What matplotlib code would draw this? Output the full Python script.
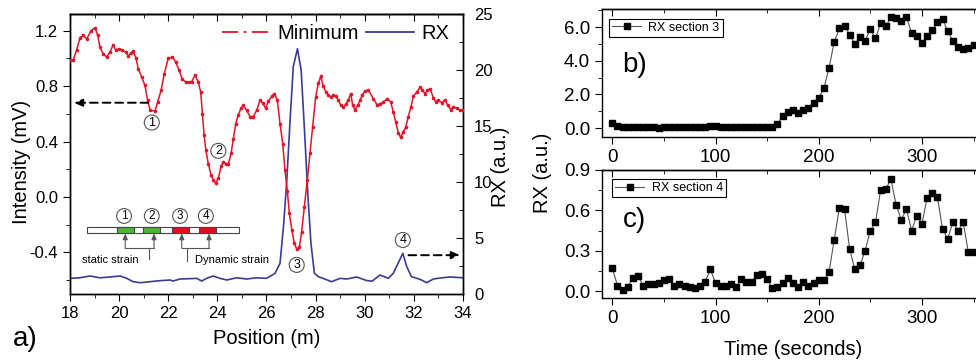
import matplotlib

matplotlib.use("Agg")

import numpy as np
from matplotlib import pyplot as plt
from matplotlib.lines import Line2D
from matplotlib.patches import Rectangle
from matplotlib.ticker import MultipleLocator, FormatStrFormatter

# ------------------------------------------------------
# Data

# panel a: "Minimum" intensity along the fibre (mV)
min_pos = [18.0, 18.13, 18.27, 18.41, 18.54, 18.68, 18.86, 19.02, 19.13, 19.22,
           19.36, 19.49, 19.63, 19.76, 19.86, 19.99, 20.13, 20.27, 20.38, 20.48,
           20.58, 20.69, 20.78, 20.92, 21.05, 21.16, 21.26, 21.46, 21.57, 21.71,
           21.84, 22.0, 22.17, 22.30, 22.44, 22.57, 22.71, 22.85, 22.95, 23.09,
           23.22, 23.32, 23.39, 23.46, 23.53, 23.63, 23.74, 23.84, 23.93, 24.04,
           24.15, 24.24, 24.35, 24.45, 24.56, 24.65, 24.75, 24.85, 24.96, 25.06,
           25.19, 25.33, 25.46, 25.60, 25.74, 25.85, 25.97, 26.07, 26.21, 26.32,
           26.44, 26.55, 26.66, 26.75, 26.85, 26.93, 27.03, 27.13, 27.23, 27.34,
           27.43, 27.54, 27.66, 27.77, 27.88, 28.0, 28.11, 28.21, 28.31, 28.41,
           28.52, 28.63, 28.72, 28.83, 28.92, 29.03, 29.13, 29.24, 29.33, 29.43,
           29.51, 29.60, 29.71, 29.81, 29.90, 30.01, 30.15, 30.35, 30.49, 30.62,
           30.76, 30.92, 31.06, 31.16, 31.26, 31.37, 31.46, 31.57, 31.67, 31.77,
           31.88, 31.98, 32.12, 32.25, 32.35, 32.45, 32.55, 32.66, 32.79, 32.89,
           33.0, 33.13, 33.27, 33.38, 33.51, 33.61, 33.75, 33.88, 34.0]
min_val = [0.99, 0.985, 1.06, 1.15, 1.165, 1.14, 1.20, 1.22, 1.165, 1.08,
           1.03, 1.01, 1.045, 1.10, 1.06, 1.07, 1.06, 1.045, 1.015, 1.04,
           1.05, 1.0, 0.925, 0.865, 0.805, 0.70, 0.625, 0.62, 0.685, 0.77,
           0.89, 1.0, 1.01, 0.975, 0.915, 0.85, 0.83, 0.83, 0.83, 0.88,
           0.83, 0.76, 0.60, 0.445, 0.34, 0.24, 0.16, 0.12, 0.10, 0.135,
           0.22, 0.255, 0.24, 0.24, 0.315, 0.42, 0.53, 0.59, 0.64, 0.66,
           0.625, 0.58, 0.58, 0.625, 0.70, 0.675, 0.64, 0.69, 0.725, 0.745,
           0.70, 0.53, 0.385, 0.195, 0.04, -0.117, -0.237, -0.333, -0.376, -0.362,
           -0.25, -0.07, 0.122, 0.314, 0.506, 0.72, 0.82, 0.87, 0.80, 0.76,
           0.735, 0.72, 0.735, 0.727, 0.70, 0.66, 0.65, 0.67, 0.70, 0.745,
           0.66, 0.63, 0.66, 0.70, 0.735, 0.765, 0.77, 0.71, 0.667, 0.67,
           0.685, 0.71, 0.685, 0.615, 0.54, 0.46, 0.43, 0.47, 0.505, 0.578,
           0.65, 0.727, 0.758, 0.79, 0.77, 0.746, 0.77, 0.78, 0.717, 0.686,
           0.70, 0.68, 0.70, 0.66, 0.63, 0.65, 0.64, 0.626, 0.63]

# panel a: RX along the fibre (a.u.)
rx_pos = [18.0, 18.4, 18.81, 19.22, 19.63, 20.04, 20.31, 20.57, 20.85, 21.26,
          21.66, 22.07, 22.2, 22.48, 22.89, 23.16, 23.36, 23.56, 23.83, 24.1,
          24.38, 24.78, 25.19, 25.6, 26.0, 26.2, 26.35, 26.55, 26.69, 26.82,
          26.96, 27.09, 27.26, 27.41, 27.54, 27.68, 27.81, 27.95, 28.11, 28.3,
          28.65, 29.0, 29.27, 29.67, 30.08, 30.3, 30.62, 30.96, 31.16, 31.37,
          31.55, 31.71, 31.9, 32.25, 32.52, 32.79, 33.06, 33.47, 34.0]
rx_val = [1.40, 1.45, 1.61, 1.45, 1.52, 1.61, 1.40, 1.10, 1.01, 1.10,
          1.19, 1.25, 1.16, 1.34, 1.37, 1.40, 1.16, 1.40, 1.61, 1.40,
          1.25, 1.45, 1.34, 1.45, 1.40, 1.65, 1.85, 2.74, 6.0, 9.9,
          15.5, 20.3, 21.9, 20.0, 14.9, 9.0, 4.5, 1.85, 1.55, 1.40,
          1.10, 1.40, 1.34, 1.52, 1.20, 1.15, 1.70, 1.40, 1.85, 2.8,
          3.63, 2.44, 1.55, 1.31, 1.01, 1.34, 1.43, 1.52, 1.45]

# panels b, c: RX of sections 3 and 4 against time
time_s = list(range(0, 351, 5))
rx_section3 = [0.28, 0.10, 0.04, 0.06, 0.07, 0.06, 0.07, 0.06, 0.04, 0.03,
               0.05, 0.06, 0.04, 0.05, 0.06, 0.05, 0.04, 0.04, 0.06, 0.12,
               0.10, 0.07, 0.05, 0.06, 0.07, 0.08, 0.07, 0.09, 0.08, 0.04,
               0.09, 0.07, 0.24, 0.71, 0.97, 1.07, 0.91, 1.07, 1.17, 1.47,
               1.76, 2.36, 3.58, 5.11, 5.92, 6.08, 5.53, 4.99, 5.39, 5.19,
               5.88, 5.33, 6.22, 6.06, 6.57, 6.51, 6.35, 6.57, 5.66, 5.47,
               5.03, 5.47, 5.82, 6.28, 6.48, 5.76, 5.17, 4.79, 4.69, 4.77,
               4.93]
rx_section4 = [0.17, 0.04, 0.01, 0.03, 0.10, 0.11, 0.04, 0.05, 0.05, 0.06,
               0.08, 0.09, 0.04, 0.05, 0.04, 0.03, 0.02, 0.04, 0.07, 0.16,
               0.06, 0.04, 0.04, 0.05, 0.03, 0.09, 0.07, 0.07, 0.12, 0.13,
               0.09, 0.02, 0.03, 0.06, 0.10, 0.06, 0.03, 0.07, 0.04, 0.06,
               0.08, 0.08, 0.14, 0.38, 0.62, 0.61, 0.31, 0.16, 0.19, 0.30,
               0.45, 0.51, 0.75, 0.76, 0.83, 0.64, 0.53, 0.61, 0.45, 0.56,
               0.50, 0.69, 0.73, 0.70, 0.46, 0.39, 0.51, 0.45, 0.51, 0.29,
               0.29]

section_labels = ["1", "2", "3", "4"]
# ------------------------------------------------------

red = "#e3132a"
blue = "#3b3b96"

params = {
    "font.family": ["Liberation Sans", "DejaVu Sans"],
    "axes.unicode_minus": False,
    "axes.linewidth": 1.0,
    "xtick.major.size": 5,
    "ytick.major.size": 5,
    "xtick.minor.size": 3,
    "ytick.minor.size": 3,
    "xtick.direction": "out",
    "ytick.direction": "out",
}
matplotlib.rcParams.update(params)

fig = plt.figure(figsize=(9.76, 3.62), dpi=100)

# ------------------------- panel a -------------------------
ax = fig.add_axes([0.0717, 0.1878, 0.4027, 0.7735])
ax2 = ax.twinx()

ax.plot(min_pos, min_val, color=red, lw=1.1, marker="o", ms=1.6, zorder=3)
ax2.plot(rx_pos, rx_val, color=blue, lw=1.2)
ax.set_zorder(ax2.get_zorder() + 1)
ax.patch.set_visible(False)

ax.set_xlim(18, 34)
ax.set_ylim(-0.70, 1.32)
ax2.set_ylim(0, 25)
ax.xaxis.set_major_locator(MultipleLocator(2))
ax.xaxis.set_minor_locator(MultipleLocator(1))
ax.yaxis.set_major_locator(MultipleLocator(0.4))
ax.yaxis.set_minor_locator(MultipleLocator(0.2))
ax.yaxis.set_major_formatter(FormatStrFormatter("%.1f"))
ax2.yaxis.set_major_locator(MultipleLocator(5))
ax2.yaxis.set_minor_locator(MultipleLocator(2.5))
ax.tick_params(which="both", labelsize=12)
ax2.tick_params(which="both", direction="in", labelsize=12, pad=8)
top = ax.secondary_xaxis("top")
top.xaxis.set_major_locator(MultipleLocator(2))
top.xaxis.set_minor_locator(MultipleLocator(1))
top.tick_params(which="both", direction="in", labeltop=False)

ax.set_xlabel("Position (m)", fontsize=14.5)
ax.xaxis.set_label_coords(0.5, -0.125)
ax.set_ylabel("Intensity (mV)", fontsize=14.5)
ax.yaxis.set_label_coords(-0.10, 0.47)
fig.text(501 / 976, 1 - 167 / 362, "RX (a.u.)", rotation=90, fontsize=14.5,
         ha="center", va="center")

# legend
h_min = Line2D([], [], color=red, lw=1.3, ls=(0, (9, 3, 1.5, 3)))
h_rx = Line2D([], [], color=blue, lw=1.3)
ax.legend([h_min, h_rx], ["Minimum", "RX"], ncol=2, frameon=False,
          fontsize=14.5, loc="center right", bbox_to_anchor=(0.99, 0.93),
          borderpad=0, handlelength=2.4, handletextpad=0.35,
          columnspacing=0.35)

# circled section markers on the curves
circ = dict(boxstyle="circle,pad=0.12", fc="white", ec="#555555", lw=0.8)
for lab, (cx, cy) in zip(section_labels, [(21.33, 0.537), (24.04, 0.333),
                                          (27.23, -0.49), (31.55, -0.31)]):
    ax.text(cx, cy, lab, fontsize=9, ha="center", va="center", bbox=circ,
            zorder=5)

# dashed arrows pointing to the axes
arr = dict(arrowstyle="-|>,head_length=0.5,head_width=0.22", color="k",
           lw=1.4, ls=(0, (4, 2.5)), shrinkA=0, shrinkB=0)
ax.annotate("", xy=(18.16, 0.68), xytext=(21.19, 0.68), arrowprops=arr)
ax.annotate("", xy=(33.88, -0.42), xytext=(31.78, -0.42), arrowprops=arr)

# sketch of the fibre sections
ax.add_patch(Rectangle((18.70, -0.261), 6.17, 0.047, fc="white",
                       ec="#444444", lw=0.8, zorder=4))
segs = [(19.90, 20.61, "#4cb82f"), (20.96, 21.68, "#4cb82f"),
        (22.17, 22.86, "#e0101e"), (23.24, 23.93, "#e0101e")]
for x0, x1, c in segs:
    ax.add_patch(Rectangle((x0, -0.261), x1 - x0, 0.047, fc=c,
                           ec="#444444", lw=0.8, zorder=4))
for lab, cx in zip(section_labels, [20.20, 21.33, 22.48, 23.53]):
    ax.text(cx, -0.137, lab, fontsize=8.5, ha="center", va="center",
            bbox=circ, zorder=5)
small = dict(arrowstyle="-|>,head_length=0.35,head_width=0.15",
             color="#555555", lw=0.8, shrinkA=0, shrinkB=0)
for xa in [20.25, 21.42, 22.55, 23.66]:
    ax.annotate("", xy=(xa, -0.263), xytext=(xa, -0.369), arrowprops=small,
                zorder=4)
ax.plot([20.25, 21.42], [-0.369, -0.369], color="#555555", lw=0.8)
ax.plot([22.55, 23.66], [-0.369, -0.369], color="#555555", lw=0.8)
ax.plot([21.22, 21.22], [-0.369, -0.446], color="#555555", lw=0.8)
ax.plot([22.76, 22.76], [-0.369, -0.465], color="#555555", lw=0.8)
ax.text(19.63, -0.453, "static strain", fontsize=8, ha="center", va="center")
ax.text(24.58, -0.458, "Dynamic strain", fontsize=8, ha="center",
        va="center")

fig.text(0.026, 0.064, "a)", fontsize=20, ha="center", va="center")

# ----------------------- panels b, c -----------------------
ax_b = fig.add_axes([0.6168, 0.6215, 0.4018, 0.3536])
ax_c = fig.add_axes([0.6168, 0.1768, 0.4018, 0.3536])

mk = dict(color="#555555", lw=0.8, marker="s", ms=5, mfc="k", mec="k")
ax_b.plot(time_s, rx_section3, label="RX section 3", **mk)
ax_c.plot(time_s, rx_section4, label="RX section 4", **mk)

ax_b.set_ylim(-0.53, 7.07)
ax_b.yaxis.set_major_locator(MultipleLocator(2))
ax_b.yaxis.set_minor_locator(MultipleLocator(1))
ax_c.set_ylim(-0.052, 0.9)
ax_c.yaxis.set_major_locator(MultipleLocator(0.3))
ax_c.yaxis.set_minor_locator(MultipleLocator(0.15))
for a in (ax_b, ax_c):
    a.set_xlim(-10, 370)
    a.xaxis.set_major_locator(MultipleLocator(100))
    a.xaxis.set_minor_locator(MultipleLocator(50))
    a.yaxis.set_major_formatter(FormatStrFormatter("%.1f"))
    a.tick_params(which="both", labelsize=13.5, right=False)
    t = a.secondary_xaxis("top")
    t.xaxis.set_major_locator(MultipleLocator(100))
    t.xaxis.set_minor_locator(MultipleLocator(50))
    t.tick_params(which="both", direction="in", labeltop=False)

ax_b.legend(loc="upper left", bbox_to_anchor=(0.018, 0.925), borderaxespad=0,
            fontsize=9, frameon=True, fancybox=False, edgecolor="k",
            framealpha=1, handlelength=2.3, handletextpad=0.6, borderpad=0.25)
ax_c.legend(loc="upper left", bbox_to_anchor=(0.026, 0.93), borderaxespad=0,
            fontsize=9, frameon=True, fancybox=False, edgecolor="k",
            framealpha=1, handlelength=2.3, handletextpad=0.6, borderpad=0.25)
for lg in (ax_b.get_legend(), ax_c.get_legend()):
    lg.get_frame().set_linewidth(0.8)

ax_b.text(0.082, 0.5625, "b)", transform=ax_b.transAxes, fontsize=20,
          ha="center", va="center")
ax_c.text(0.082, 0.61, "c)", transform=ax_c.transAxes, fontsize=20,
          ha="center", va="center")

ax_c.set_xlabel("Time (seconds)", fontsize=14.5)
ax_c.xaxis.set_label_coords(0.487, -0.33)
fig.text(542 / 976, 1 - 173 / 362, "RX (a.u.)", rotation=90, fontsize=14.5,
         ha="center", va="center")

plt.savefig("out.png", dpi=100)
